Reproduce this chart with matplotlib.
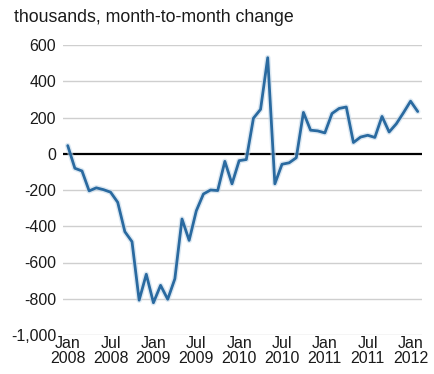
import matplotlib
matplotlib.use("Agg")
import matplotlib.pyplot as plt
import matplotlib.patheffects as pe
from matplotlib.ticker import FuncFormatter

plt.rcParams['font.family'] = ['Liberation Sans', 'DejaVu Sans']

# Monthly change in payroll employment, Jan 2008 - Feb 2012 (thousands)
values = [45, -80, -95, -205, -188, -198, -212, -268, -430, -485,
          -808, -665, -822, -726, -803, -690, -360, -478, -315, -222,
          -200, -203, -42, -166, -38, -32, 196, 245, 530, -166,
          -58, -50, -22, 228, 130, 126, 115, 222, 250, 258,
          62, 92, 102, 90, 206, 120, 165, 226, 290, 233]
months = list(range(len(values)))

tick_positions = [0, 6, 12, 18, 24, 30, 36, 42, 48]
tick_labels = ["Jan\n2008", "Jul\n2008", "Jan\n2009", "Jul\n2009", "Jan\n2010",
               "Jul\n2010", "Jan\n2011", "Jul\n2011", "Jan\n2012"]
y_ticks = [-1000, -800, -600, -400, -200, 0, 200, 400, 600]

fig = plt.figure(figsize=(4.35, 3.74), dpi=100)
ax = fig.add_axes([63/435, 39/374, (422-63)/435, (335-45)/374])

ax.set_xlim(-0.66, 49.6)
ax.set_ylim(-1000, 600)

for yt in y_ticks:
    if yt != 0:
        ax.axhline(yt, color='#cfcfcf', lw=1.0, zorder=1)
ax.axhline(0, color='black', lw=1.6, zorder=2)

ax.plot(months, values, color='#2a6aa0', lw=2.0, zorder=3,
        solid_joinstyle='round', solid_capstyle='round',
        path_effects=[pe.Stroke(linewidth=4.0, foreground='#c5d9ea', alpha=0.6,
                                joinstyle='round', capstyle='round'),
                      pe.Normal()])

for s in ax.spines.values():
    s.set_visible(False)

ax.set_yticks(y_ticks)
ax.yaxis.set_major_formatter(FuncFormatter(lambda v, p: f"{int(v):,}"))
ax.set_xticks(tick_positions)
ax.set_xticklabels(tick_labels, linespacing=1.0)
ax.tick_params(axis='y', length=0, pad=5, labelsize=11.5, labelcolor='#1a1a1a')
ax.tick_params(axis='x', length=0, pad=1, labelsize=11.5, labelcolor='#1a1a1a')

fig.text(14/435, 1 - 18/374, "thousands, month-to-month change", fontsize=12.8,
         color='#1a1a1a', ha='left', va='center')

fig.savefig("out.png", dpi=100, facecolor='white')
